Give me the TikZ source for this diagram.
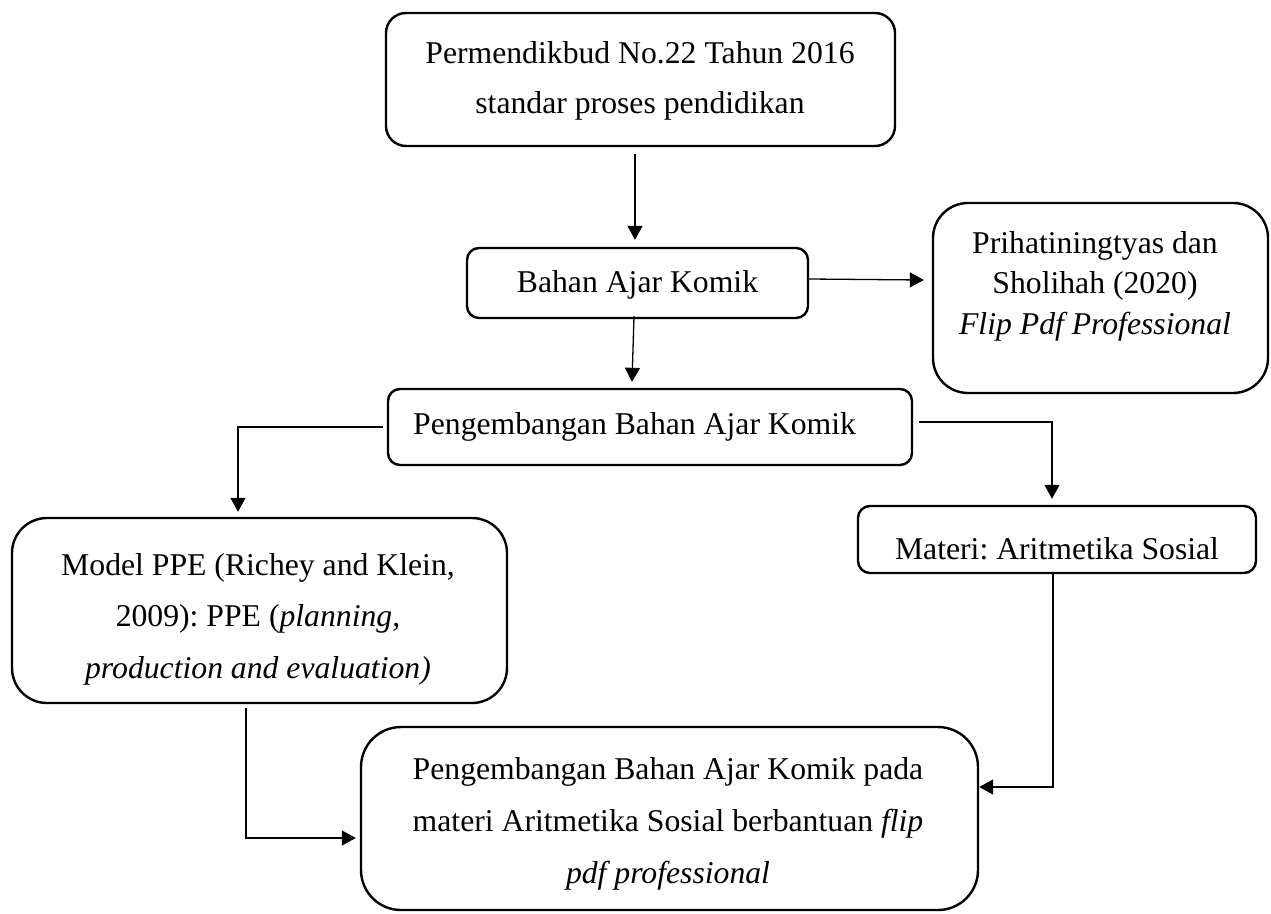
\documentclass[tikz,border=0pt]{standalone}
\usepackage{fontspec}
\setmainfont{Liberation Serif}
\usetikzlibrary{arrows.meta}
\frenchspacing
\begin{document}
\begin{tikzpicture}[x=1pt,y=-1pt,
  box/.style={draw, line width=2.4pt, rectangle, inner sep=0pt},
  txt/.style={inner sep=0pt, align=center, font=\fontsize{31.7}{50}\selectfont},
  arr/.style={line width=1.3pt, -{Triangle[length=14pt,width=15pt]}}]
\useasboundingbox (0,0) rectangle (1271,913);
% boxes
\node[box, rounded corners=20pt, minimum width=509pt, minimum height=133pt] (b1) at (640.5,79.5) {};
\node[box, rounded corners=12pt, minimum width=341pt, minimum height=70pt] (b2) at (637.5,283) {};
\node[box, rounded corners=35pt, minimum width=335pt, minimum height=190pt] (b3) at (1100.5,298) {};
\node[box, rounded corners=12pt, minimum width=524pt, minimum height=76pt] (b4) at (650,427) {};
\node[box, rounded corners=35pt, minimum width=495pt, minimum height=185pt] (b5) at (259.5,610.5) {};
\node[box, rounded corners=12pt, minimum width=398pt, minimum height=67pt] (b6) at (1057,539.5) {};
\node[box, rounded corners=40pt, minimum width=617pt, minimum height=183pt] (b7) at (669.5,818.5) {};
% texts
\node[txt] (t1) at (640,80.6) {Permendikbud No.22 Tahun 2016\\standar proses pendidikan};
\node[txt, anchor=base] (t2) at (637.5,292) {Bahan Ajar Komik};
\node[txt, font=\fontsize{31.7}{40.5}\selectfont] (t3) at (1095,286) {Prihatiningtyas dan\\Sholihah (2020)\\\textit{Flip Pdf Professional}};
\node[txt, anchor=base west] (t4) at (413,434) {Pengembangan Bahan Ajar Komik};
\node[txt, font=\fontsize{31.7}{51.5}\selectfont] (t5) at (258,619.1) {Model PPE (Richey and Klein,\\2009): PPE (\textit{planning,}\\\textit{production and evaluation)}};
\node[txt, anchor=base] (t6) at (1057,559) {Materi: Aritmetika Sosial};
\node[txt, font=\fontsize{31.7}{52}\selectfont] (t7) at (668,823.6) {Pengembangan Bahan Ajar Komik pada\\materi Aritmetika Sosial berbantuan \textit{flip}\\\textit{pdf professional}};
% connectors
\draw[arr] ([shift={(-5.5,7)}]b1.south) -- ([shift={(-2.5,-7)}]b2.north);
\draw[arr] ([shift={(-3.5,-3)}]b2.south) -- ([shift={(-18,-6)}]b4.north);
\draw[arr] ([shift={(0,-4)}]b2.east) -- ([shift={(-8,-18)}]b3.west);
\draw[arr] ([shift={(-4,0)}]b4.west) -| ([shift={(-21.5,-5)}]b5.north);
\draw[arr] ([shift={(6,-5)}]b4.east) -| ([shift={(-5,-6)}]b6.north);
\draw[arr] ([shift={(-13.5,4)}]b5.south) |- ([shift={(-4,19.5)}]b7.west);
\draw[arr] ([shift={(-4,0)}]b6.south) |- ([shift={(0,-31.5)}]b7.east);
\end{tikzpicture}
\end{document}
